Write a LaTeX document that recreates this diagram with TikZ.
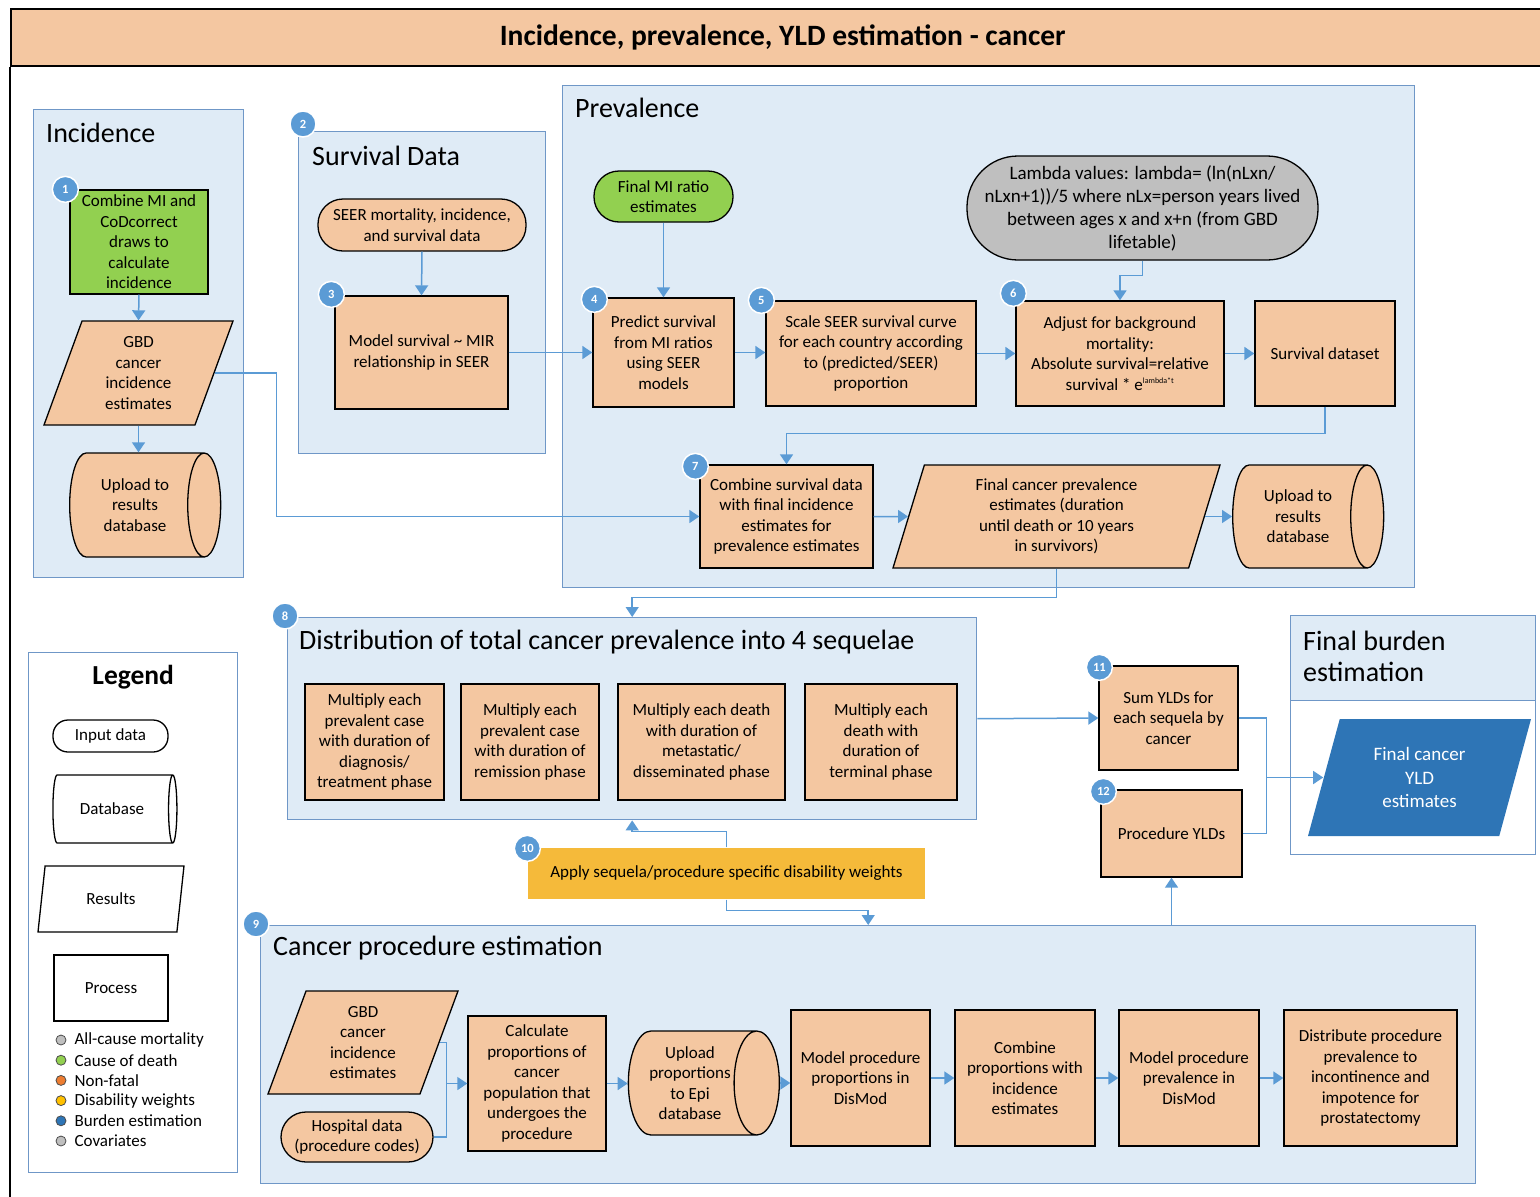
\documentclass[tikz,border=0pt]{standalone}
\usepackage{fontspec}
\setmainfont{Carlito}
\usetikzlibrary{arrows.meta,shapes.geometric,shapes.misc}
\definecolor{GBPeach}{HTML}{F4C7A1}
\definecolor{GBPanel}{HTML}{DFEBF6}
\definecolor{GBEdge}{HTML}{6F97C7}
\definecolor{GBLink}{HTML}{5B9BD5}
\definecolor{GBGreen}{HTML}{92D050}
\definecolor{GBGray}{HTML}{BFBFBF}
\definecolor{GBYellow}{HTML}{F5BA3A}
\definecolor{GBBlue}{HTML}{2E75B6}
\definecolor{GBOrange}{HTML}{ED7D31}
\definecolor{GBGold}{HTML}{FFC000}

\begin{document}
\begin{tikzpicture}[
    x=1pt, y=-1pt,
    font=\fontsize{17}{20.5}\selectfont,
    % default arrow tip for all connectors
    >={Triangle[length=10pt,width=13pt]},
    panel/.style={rectangle, draw=GBEdge, fill=GBPanel, line width=1.4pt, anchor=north west, inner sep=0pt},
    paneltitle/.style={anchor=base west, inner sep=0pt, font=\fontsize{28}{31}\selectfont, align=left},
    process/.style={rectangle, draw=black, fill=GBPeach, line width=1.3pt, align=center, inner sep=2pt},
    % pill: rounded corners of half the height
    input/.style={rectangle, rounded corners=25pt, draw=black, fill=GBPeach, line width=1.3pt, align=center,
        inner sep=1pt},
    results/.style={trapezium, trapezium left angle=63, trapezium right angle=117, trapezium stretches body=true,
        draw=black, fill=GBPeach, line width=1.3pt, align=center, inner sep=1pt},
    % cylinder: minimum height runs along the axis
    database/.style={cylinder, aspect=0.6, draw=black, line width=1.3pt, cylinder uses custom fill,
        cylinder body fill=GBPeach, cylinder end fill=GBPeach, align=center, inner sep=1pt},
    badge/.style={circle, fill=GBLink, draw=white, line width=1.5pt, text=white, minimum size=26pt, inner sep=0pt,
        font=\bfseries\fontsize{12.5}{12.5}\selectfont},
    flow/.style={->, draw=GBLink, line width=1.5pt},
    link/.style={draw=GBLink, line width=1.5pt},
    dot/.style={circle, draw=black!70, line width=0.8pt, minimum size=10pt, inner sep=0pt}
]
    \useasboundingbox (0,0) rectangle (1540,1197);

    % --- 1. title bar and frame ---
    \node[draw=black, fill=GBPeach, line width=1.5pt, minimum width=1544pt, minimum height=57pt,
        anchor=north west, font=\bfseries\fontsize{29.5}{32}\selectfont] (titleBar) at (10,8)
        {Incidence, prevalence, YLD estimation - cancer};
    \draw[line width=1.5pt] (titleBar.south west) -- (10,1200);

    % --- 2. panels ---
    \node[panel, minimum width=210pt, minimum height=468pt] (incPanel) at (33,109) {};
    \node[paneltitle] at ([shift={(13,33)}]incPanel.north west) {Incidence};
    \node[panel, minimum width=247pt, minimum height=322pt] (survPanel) at (298,131) {};
    \node[paneltitle] at ([shift={(14,34)}]survPanel.north west) {Survival Data};
    \node[panel, minimum width=852pt, minimum height=502pt] (prevPanel) at (562,85) {};
    \node[paneltitle] at ([shift={(13,32)}]prevPanel.north west) {Prevalence};
    \node[panel, minimum width=689pt, minimum height=202pt] (distPanel) at (287,617) {};
    \node[paneltitle] at ([shift={(12,32)}]distPanel.north west)
        {Distribution of total cancer prevalence into 4 sequelae};
    \node[panel, minimum width=1215pt, minimum height=258pt] (procPanel) at (260,925) {};
    \node[paneltitle] at ([shift={(13,30)}]procPanel.north west) {Cancer procedure estimation};
    \node[panel, fill=white, minimum width=245pt, minimum height=239pt] (burdenPanel) at (1290,615) {};
    \node[panel, minimum width=245pt, minimum height=85pt] (burdenHead) at (1290,615) {};
    \node[paneltitle, anchor=north west] at ([shift={(13,16)}]burdenHead.north west) {Final burden\\estimation};
    \node[panel, fill=white, minimum width=209pt, minimum height=520pt] (legPanel) at (28,652) {};
    \node[anchor=base, inner sep=0pt, font=\bfseries\fontsize{27.5}{30}\selectfont]
        at ([shift={(0,32)}]legPanel.north) {Legend};

    % --- 3. incidence ---
    \node[process, fill=GBGreen, minimum width=138pt, minimum height=104pt] (incCalc) at (139,242)
        {Combine MI and\\CoDcorrect\\draws to\\calculate\\incidence};
    \node[results, minimum width=189pt, minimum height=104pt] (gbdInc) at (138.5,373)
        {GBD\\cancer\\incidence\\estimates};
    \node[database, minimum height=151pt, minimum width=104pt] (incUpload) at (135,505)
        {Upload to\\results\\database};

    % --- 4. survival data ---
    \node[input, minimum width=208pt, minimum height=52pt] (seer) at (422,225)
        {SEER mortality, incidence,\\and survival data};
    \node[process, minimum width=173pt, minimum height=113pt] (modelSurv) at (421.5,352.5)
        {Model survival \textasciitilde{} MIR\\relationship in SEER};

    % --- 5. prevalence ---
    \node[input, fill=GBGreen, minimum width=139pt, minimum height=51pt] (finalMI) at (663.5,196.5)
        {Final MI ratio\\estimates};
    \node[input, fill=GBGray, rounded corners=51pt, minimum width=351pt, minimum height=104pt,
        font=\fontsize{19}{23}\selectfont] (lambda) at (1142.5,208)
        {Lambda values: lambda= (ln(nLxn/\\nLxn+1))/5 where nLx=person years lived\\between ages x and x+n (from GBD\\lifetable)};
    \node[process, minimum width=141pt, minimum height=109pt] (predSurv) at (663.5,352.5)
        {Predict survival\\from MI ratios\\using SEER\\models};
    \node[process, minimum width=210pt, minimum height=105pt] (scaleSurv) at (871,353.5)
        {Scale SEER survival curve\\for each country according\\to (predicted/SEER)\\proportion};
    \node[process, minimum width=208pt, minimum height=105pt] (adjust) at (1120,353.5)
        {Adjust for background\\mortality:\\Absolute survival=relative\\survival * e\textsuperscript{\fontsize{8}{8}\selectfont lambda*t}};
    \node[process, minimum width=140pt, minimum height=105pt] (survSet) at (1325,353.5) {Survival dataset};
    \node[process, minimum width=173pt, minimum height=103pt] (combSurv) at (786.5,516.5)
        {Combine survival data\\with final incidence\\estimates for\\prevalence estimates};
    \node[results, trapezium left angle=68, trapezium right angle=112, minimum width=327pt, minimum height=103pt]
        (finalPrev) at (1056.5,516.5)
        {Final cancer prevalence\\estimates (duration\\until death or 10 years\\in survivors)};
    \node[database, minimum height=151pt, minimum width=103pt] (prevUpload) at (1298,516.5)
        {Upload to\\results\\database};

    % --- 6. sequelae ---
    \node[process, minimum width=139pt, minimum height=116pt] (multDiag) at (374.5,742)
        {Multiply each\\prevalent case\\with duration of\\diagnosis/\\treatment phase};
    \node[process, minimum width=138pt, minimum height=116pt] (multRemi) at (530,742)
        {Multiply each\\prevalent case\\with duration of\\remission phase};
    \node[process, minimum width=167pt, minimum height=116pt] (multMeta) at (701.5,742)
        {Multiply each death\\with duration of\\metastatic/\\disseminated phase};
    \node[process, minimum width=152pt, minimum height=116pt] (multTerm) at (881,742)
        {Multiply each\\death with\\duration of\\terminal phase};
    \node[process, draw=none, fill=GBYellow, minimum width=397pt, minimum height=51pt] (weights) at (726.5,873.5)
        {Apply sequela/procedure specific disability weights};

    % --- 7. YLDs ---
    \node[process, minimum width=139pt, minimum height=104pt] (sumYld) at (1168.5,718)
        {Sum YLDs for\\each sequela by\\cancer};
    \node[process, minimum width=141pt, minimum height=87pt] (yldProc) at (1171.5,833.5) {Procedure YLDs};
    \node[results, draw=none, fill=GBBlue, text=white, minimum width=223pt, minimum height=117pt,
        font=\fontsize{19}{23.5}\selectfont] (finalYld) at (1419.5,777.5) {Final cancer\\YLD\\estimates};

    % --- 8. procedures ---
    \node[results, minimum width=190pt, minimum height=103pt] (gbdProc) at (363,1042.5)
        {GBD\\cancer\\incidence\\estimates};
    \node[input, minimum width=152pt, minimum height=50pt] (hosp) at (357,1137)
        {Hospital data\\(procedure codes)};
    \node[process, minimum width=138pt, minimum height=135pt] (calc) at (537,1083.5)
        {Calculate\\proportions of\\cancer\\population that\\undergoes the\\procedure};
    \node[database, minimum height=151pt, minimum width=104pt] (procUpload) at (690,1083)
        {Upload\\proportions\\to Epi\\database};
    \node[process, minimum width=139pt, minimum height=136pt] (modelProp) at (860.5,1078)
        {Model procedure\\proportions in\\DisMod};
    \node[process, minimum width=140pt, minimum height=136pt] (combProp) at (1025,1078)
        {Combine\\proportions with\\incidence\\estimates};
    \node[process, minimum width=140pt, minimum height=136pt] (modelPrev) at (1189,1078)
        {Model procedure\\prevalence in\\DisMod};
    \node[process, minimum width=173pt, minimum height=136pt] (distrib) at (1370.5,1078)
        {Distribute procedure\\prevalence to\\incontinence and\\impotence for\\prostatectomy};

    % --- 9. connectors ---
    \draw[flow] (incCalc.south) -- (gbdInc.north);
    \draw[flow] (gbdInc.south) -- (gbdInc.south |- incUpload.north);
    \draw[flow] (gbdInc.east) -- ++(62,0) |- (combSurv.west);
    \draw[flow] (seer.south) -- (modelSurv.north);
    \draw[flow] (modelSurv.east) -- (predSurv.west);
    \draw[flow] (finalMI.south) -- (predSurv.north);
    \draw[flow] (predSurv.east) -- (predSurv.east -| scaleSurv.west);
    \draw[flow] (scaleSurv.east) -- (adjust.west);
    \draw[flow] (adjust.east) -- (survSet.west);
    \draw[flow] (lambda.south) -- ++(0,15) -| (adjust.north);
    \draw[flow] (survSet.south) -- ++(0,27) -| (combSurv.north);
    \draw[flow] (combSurv.east) -- (finalPrev.west);
    \draw[flow] (finalPrev.east) -- (finalPrev.east -| prevUpload.west);
    \draw[flow] (finalPrev.south) -- ++(0,29) -| (distPanel.north);
    \draw[flow] (distPanel.east) -- (sumYld.west);
    \draw[flow] (sumYld.east) -- ++(28,0) |- (finalYld.west);
    \draw[link] (yldProc.east) -| ([xshift=28pt]sumYld.east);
    \draw[flow] (weights.north) -- ++(0,-16) -| (distPanel.south);
    \draw[flow] (weights.south) -- ++(0,11) -| (procPanel.north);
    \draw[flow] (procPanel.north -| yldProc.south) -- (yldProc.south);
    \coordinate (procJoin) at ([xshift=-21pt]calc.west);
    \draw[link] (gbdProc.east) -| (procJoin);
    \draw[link] (hosp.east) -| (procJoin);
    \draw[flow] (procJoin) -- (calc.west);
    \draw[flow] (calc.east) -- (calc.east -| procUpload.west);
    \draw[flow] (procUpload.east) -- (procUpload.east -| modelProp.west);
    \draw[flow] (modelProp.east) -- (combProp.west);
    \draw[flow] (combProp.east) -- (modelPrev.west);
    \draw[flow] (modelPrev.east) -- (distrib.west);

    % --- 10. step numbers ---
    \node[badge] at ([shift={(-4,0)}]incCalc.north west) {1};
    \node[badge] at ([shift={(5,-7)}]survPanel.north west) {2};
    \node[badge] at ([shift={(-3,-1)}]modelSurv.north west) {3};
    \node[badge] at ([shift={(2,2)}]predSurv.north west) {4};
    \node[badge] at ([shift={(-4,0)}]scaleSurv.north west) {5};
    \node[badge] at ([shift={(-2,-7)}]adjust.north west) {6};
    \node[badge] at ([shift={(-4,2)}]combSurv.north west) {7};
    \node[badge] at ([shift={(-2,-1)}]distPanel.north west) {8};
    \node[badge] at ([shift={(-4,-1)}]procPanel.north west) {9};
    \node[badge] at ([shift={(0,1)}]weights.north west) {10};
    \node[badge] at ([shift={(1,2)}]sumYld.north west) {11};
    \node[badge] at ([shift={(3,2)}]yldProc.north west) {12};

    % --- 11. legend ---
    \begin{scope}[font=\fontsize{17}{20}\selectfont]
        \node[input, fill=white, rounded corners=15pt, minimum width=115pt, minimum height=32pt] (legInput) at (110.5,736) {Input data};
        \node[database, cylinder body fill=white, cylinder end fill=white, minimum height=124pt, minimum width=68pt]
            (legDb) at (112,809) {Database};
        \node[results, fill=white, minimum width=146pt, minimum height=66pt] (legRes) at (111,899) {Results};
        \node[process, fill=white, minimum width=114pt, minimum height=66pt] (legProc) at (111,988) {Process};
        \foreach \i/\col/\txt in {0/GBGray/All-cause mortality, 1/GBGreen/Cause of death, 2/GBOrange/Non-fatal,
            3/GBGold/Disability weights, 4/GBBlue/Burden estimation, 5/GBGray/Covariates} {
            \node[dot, fill=\col] (legDot\i) at (61,1040+20.2*\i) {};
            \node[anchor=west, inner sep=0pt] at ([xshift=8pt]legDot\i.east) {\txt};
        }
    \end{scope}

\end{tikzpicture}
\end{document}
